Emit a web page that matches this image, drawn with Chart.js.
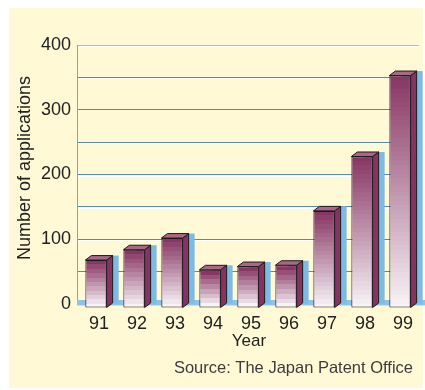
<!DOCTYPE html>
<html><head><meta charset="utf-8">
<script src="https://cdn.jsdelivr.net/npm/chart.js@4/dist/chart.umd.min.js"></script>
<style>html,body{margin:0;padding:0;background:#fff}#wrap{width:425px;height:390px}</style>
</head><body><div id="wrap"><canvas id="c" width="425" height="390"></canvas></div>
<script>
const years = ['91','92','93','94','95','96','97','98','99'];
const applications = [74, 90, 108, 59, 64, 66, 150, 234, 359];
const yTickLabels = [0, 100, 200, 300, 400];
const yAxisTitle = 'Number of applications';
const xAxisTitle = 'Year';
const sourceNote = 'Source: The Japan Patent Office';

const FONT = '"Liberation Sans", Arial, Helvetica, sans-serif';
const DEPTH_X = 6, DEPTH_Y = 4.5, FRONT_DROP = 4, SHADOW_X = 12;
const TOP_RGB = [0x88, 0x37, 0x64], BOT_RGB = [0xf8, 0xf3, 0xf7];

function mix(t) {
  return 'rgb(' + TOP_RGB.map((a, k) => Math.round(a + (BOT_RGB[k] - a) * t)).join(',') + ')';
}
function frontFill(c) {
  const chart = c.chart, ys = chart.scales && chart.scales.y;
  if (!ys || !chart.chartArea || c.raw === undefined) return '#b07a95';
  const top = ys.getPixelForValue(c.raw), bot = ys.getPixelForValue(0);
  const g = chart.ctx.createLinearGradient(0, top, 0, bot);
  const n = Math.max(3, Math.round((bot - top) / 4.5));
  for (let i = 0; i < n; i++) {
    const col = mix(i / (n - 1));
    g.addColorStop(i / n, col);
    g.addColorStop((i + 1) / n, col);
  }
  return g;
}

const decor = {
  id: 'decor',
  beforeDraw(chart) {
    const ctx = chart.ctx;
    ctx.save();
    ctx.fillStyle = '#ffffff'; ctx.fillRect(0, 0, chart.width, chart.height);
    ctx.fillStyle = '#fff9d6'; ctx.fillRect(9, 8, 414, 380);
    ctx.restore();
  },
  beforeDatasetsDraw(chart) {
    const ctx = chart.ctx, ys = chart.scales.y, a = chart.chartArea;
    ctx.save();
    ctx.strokeStyle = 'rgba(255,255,255,0.9)'; ctx.lineWidth = 1;
    ys.ticks.forEach(t => {
      const y = Math.round(ys.getPixelForValue(t.value)) + 1.5;
      ctx.beginPath(); ctx.moveTo(a.left + 1, y); ctx.lineTo(a.right, y); ctx.stroke();
    });
    const base = ys.getPixelForValue(0);
    ctx.fillStyle = '#8cc3e6';
    ctx.fillRect(a.left, base - 4, a.right + 6 - a.left, 5.5);
    const meta = chart.getDatasetMeta(0);
    meta.data.forEach(b => {
      const l = b.x - b.width / 2;
      ctx.fillStyle = '#7ebbe4';
      ctx.fillRect(l + SHADOW_X, b.y - 0.5, b.width, b.base - b.y + 0.5);
    });
    ctx.restore();
  },
  beforeDatasetDraw(chart) { chart.ctx.save(); chart.ctx.translate(0, FRONT_DROP); },
  afterDatasetDraw(chart) { chart.ctx.restore(); },
  afterDatasetsDraw(chart) {
    const ctx = chart.ctx;
    const meta = chart.getDatasetMeta(0);
    ctx.save();
    ctx.lineWidth = 1; ctx.strokeStyle = '#1e1a1c'; ctx.lineJoin = 'round';
    meta.data.forEach(b => {
      const l = b.x - b.width / 2, r = b.x + b.width / 2;
      const t = b.y + FRONT_DROP, bt = b.base + FRONT_DROP;
      ctx.beginPath();
      ctx.moveTo(r, t); ctx.lineTo(r + DEPTH_X, t - DEPTH_Y);
      ctx.lineTo(r + DEPTH_X, bt - DEPTH_Y); ctx.lineTo(r, bt); ctx.closePath();
      ctx.fillStyle = '#86345f'; ctx.fill(); ctx.stroke();
      ctx.beginPath();
      ctx.moveTo(l, t); ctx.lineTo(l + DEPTH_X, t - DEPTH_Y);
      ctx.lineTo(r + DEPTH_X, t - DEPTH_Y); ctx.lineTo(r, t); ctx.closePath();
      ctx.fillStyle = '#a86886'; ctx.fill(); ctx.stroke();
    });
    ctx.restore();
  },
  afterDraw(chart) {
    const ctx = chart.ctx;
    ctx.save();
    ctx.fillStyle = '#222';
    ctx.font = '18px ' + FONT;
    ctx.textAlign = 'center'; ctx.textBaseline = 'alphabetic';
    ctx.translate(29.5, 168); ctx.rotate(-Math.PI / 2);
    ctx.fillText(yAxisTitle, 0, 0);
    ctx.restore();
    ctx.save();
    ctx.fillStyle = '#222';
    ctx.font = '17px ' + FONT;
    ctx.textAlign = 'center'; ctx.textBaseline = 'alphabetic';
    ctx.fillText(xAxisTitle, 249, 345.5);
    ctx.fillStyle = '#3c3c3c';
    ctx.font = '16.5px ' + FONT;
    ctx.textAlign = 'right';
    ctx.fillText(sourceNote, 413, 372.5);
    ctx.restore();
  }
};

new Chart(document.getElementById('c'), {
  type: 'bar',
  data: {
    labels: years,
    datasets: [{
      data: applications,
      backgroundColor: frontFill,
      borderColor: '#1e1a1c',
      borderWidth: 1,
      borderSkipped: false,
      barPercentage: 0.56,
      categoryPercentage: 1,
      clip: false
    }]
  },
  options: {
    responsive: false,
    animation: false,
    devicePixelRatio: 1,
    layout: { padding: { left: 0, top: 45, right: 6, bottom: 0 } },
    plugins: { legend: { display: false }, tooltip: { enabled: false } },
    scales: {
      x: {
        grid: { display: false },
        border: { display: false },
        ticks: { color: '#222', font: { family: FONT, size: 18 }, padding: 1, labelOffset: 3, maxRotation: 0 },
        afterFit(s) { s.height = 86; }
      },
      y: {
        min: 0, max: 400,
        grid: {
          drawTicks: false,
          color: c => (c.tick && c.tick.value === 400) ? '#9fbed2' : '#5588b3',
          lineWidth: 1
        },
        border: { display: true, color: '#7ea6c6', width: 1 },
        ticks: {
          stepSize: 50, padding: 6, color: '#222',
          font: { family: FONT, size: 18 },
          callback: v => yTickLabels.includes(v) ? String(v) : ''
        },
        afterFit(s) { s.width = 77; }
      }
    }
  },
  plugins: [decor]
});
</script></body></html>
